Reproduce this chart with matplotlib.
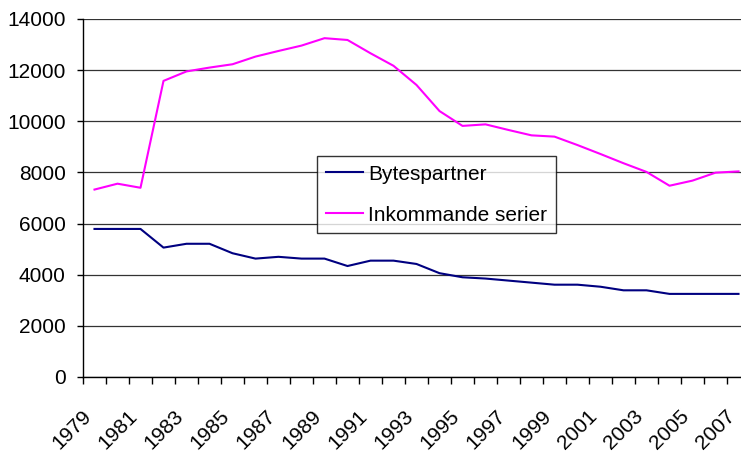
import matplotlib
matplotlib.use("Agg")
import matplotlib.pyplot as plt
import matplotlib.transforms as mtransforms
import numpy as np

years = list(range(1979, 2008))
bytespartner = [5790, 5790, 5790, 5060, 5210, 5210, 4840, 4630, 4700, 4630,
                4630, 4340, 4550, 4550, 4420, 4060, 3900, 3850, 3770, 3690,
                3610, 3610, 3530, 3390, 3390, 3250, 3250, 3250, 3250]
inkommande = [7330, 7560, 7400, 11580, 11950, 12100, 12230, 12530, 12750, 12960,
              13250, 13180, 12660, 12170, 11420, 10400, 9820, 9880, 9660, 9450,
              9400, 9070, 8720, 8360, 8020, 7480, 7680, 7990, 8040]
y_ticks = [0, 2000, 4000, 6000, 8000, 10000, 12000, 14000]

plt.rcParams['font.family'] = ['Liberation Sans', 'DejaVu Sans']

W, H = 741, 455
fig = plt.figure(figsize=(W / 100, H / 100), dpi=100)
left, right, top, bottom = 83, 750, 19, 377
ax = fig.add_axes([left / W, 1 - bottom / H, (right - left) / W, (bottom - top) / H])

x = np.arange(len(years))
ax.plot(x, bytespartner, color='#000080', lw=1.5, label='Bytespartner')
ax.plot(x, inkommande, color='#FF00FF', lw=1.5, label='Inkommande serier')

ax.set_xlim(-0.5, len(years) - 0.5)
ax.set_ylim(0, 14000)
ax.set_yticks(y_ticks)
ax.set_yticklabels([str(v) for v in y_ticks])
ax.yaxis.grid(True, color='#333333', lw=0.9)
ax.set_axisbelow(True)

for s in ['top', 'right']:
    ax.spines[s].set_visible(False)
for s in ['left', 'bottom']:
    ax.spines[s].set_color('black')
    ax.spines[s].set_linewidth(1.0)

ax.tick_params(axis='y', direction='out', length=4.5, width=1, pad=8, labelsize=15, colors='black')

# category boundaries as major ticks (marks only), labels at centers as minor ticks
ax.set_xticks(np.arange(len(years) + 1) - 0.5)
ax.set_xticklabels([])
ax.tick_params(axis='x', which='major', direction='out', length=5, width=1)
label_idx = x[::2]
ax.set_xticks(label_idx, minor=True)
ax.set_xticklabels([str(years[i]) for i in label_idx], minor=True,
                   rotation=45, ha='right', va='center', rotation_mode='anchor')
ax.tick_params(axis='x', which='minor', length=0, pad=26, labelsize=15)
offset = mtransforms.ScaledTranslation(-6 / 100, 0, fig.dpi_scale_trans)
for lab in ax.get_xticklabels(minor=True):
    lab.set_transform(lab.get_transform() + offset)

leg = ax.legend(loc='upper left', bbox_to_anchor=(317 / W, 1 - 156 / H),
                bbox_transform=fig.transFigure, borderaxespad=0,
                fontsize=15, frameon=True, fancybox=False,
                handlelength=1.8, handletextpad=0.25, labelspacing=1.05,
                borderpad=0.42)
leg.get_frame().set_edgecolor('black')
leg.get_frame().set_linewidth(1.0)

fig.savefig('out.png', dpi=100)
